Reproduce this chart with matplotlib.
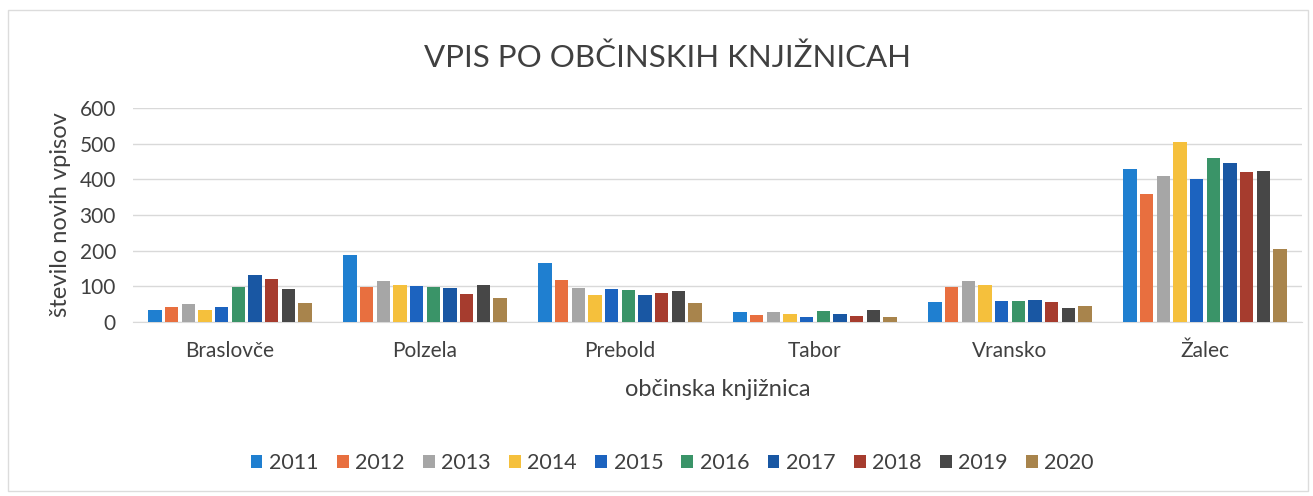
import matplotlib
matplotlib.use("Agg")
import matplotlib.pyplot as plt
import numpy as np
from matplotlib.patches import Rectangle

categories = ["Braslovče", "Polzela", "Prebold", "Tabor", "Vransko", "Žalec"]
years = ["2011", "2012", "2013", "2014", "2015", "2016", "2017", "2018", "2019", "2020"]
v2011 = [33, 189, 166, 28, 57, 430]
v2012 = [42, 98, 117, 19, 97, 358]
v2013 = [50, 115, 94, 27, 114, 410]
v2014 = [33, 103, 75, 23, 103, 504]
v2015 = [42, 102, 91, 14, 59, 402]
v2016 = [98, 98, 89, 31, 59, 459]
v2017 = [133, 96, 75, 21, 61, 445]
v2018 = [120, 78, 82, 17, 55, 420]
v2019 = [91, 103, 86, 33, 39, 424]
v2020 = [52, 66, 53, 14, 44, 205]
series = [v2011, v2012, v2013, v2014, v2015, v2016, v2017, v2018, v2019, v2020]
colors = ["#1f7fd0", "#e86f3f", "#a6a6a6", "#f5c03c", "#1c63bf", "#3a9468",
          "#1957a3", "#a63c2e", "#474747", "#a8844c"]

plt.rcParams['font.family'] = ['Lato', 'DejaVu Sans']
fig = plt.figure(figsize=(13.13, 4.96), dpi=100)
ax = fig.add_axes([0.101, 0.351, 0.891, 0.431])

x = np.arange(len(categories))
step = 0.0855
bw = 0.068
for i, (vals, c) in enumerate(zip(series, colors)):
    ax.bar(x + (i - 4.5) * step, vals, width=bw, color=c, label=years[i], zorder=3)

ax.set_xlim(-0.5, len(categories) - 0.5)
ax.set_ylim(0, 600)
ax.set_yticks(range(0, 601, 100))
ax.set_xticks(x)
ax.set_xticklabels(categories)
ax.tick_params(axis='both', length=0, labelsize=15, colors="#404040")
ax.tick_params(axis='x', pad=14)
ax.tick_params(axis='y', pad=12)
ax.grid(axis='y', color="#d9d9d9", linewidth=1, zorder=0)
for s in ["top", "right", "left"]:
    ax.spines[s].set_visible(False)
ax.spines["bottom"].set_color("#d9d9d9")
ax.set_xlabel("občinska knjižnica", fontsize=17, color="#404040", labelpad=13)
ax.set_ylabel("število novih vpisov", fontsize=17, color="#404040", labelpad=6)

fig.text(0.508, 0.883, "VPIS PO OBČINSKIH KNJIŽNICAH", ha="center", va="center",
         fontsize=22.5, color="#404040")

leg = fig.legend(loc="center", bbox_to_anchor=(0.512, 0.067), ncol=10, frameon=False,
                 fontsize=15.5, handlelength=0.55, handleheight=0.55, handletextpad=0.3,
                 columnspacing=0.85)
for t in leg.get_texts():
    t.set_color("#404040")

fig.patches.append(Rectangle((0.006, 0.01), 0.99, 0.97, transform=fig.transFigure,
                             fill=False, edgecolor="#dcdcdc", linewidth=1))

fig.savefig("out.png", dpi=100)
